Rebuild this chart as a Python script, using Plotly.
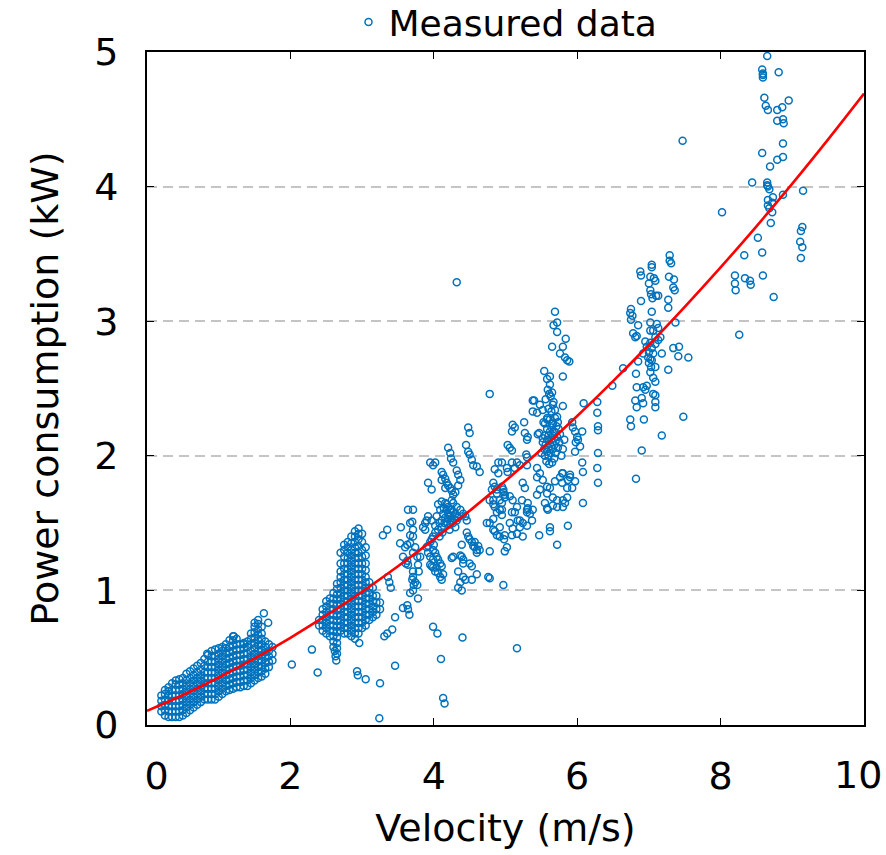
import plotly.graph_objects as go

# ---------------- data ----------------
# dense low-speed band: (velocity, [power values]) columns
low_band = [
    (0.20, [0.10, 0.14, 0.18, 0.22]),
    (0.25, [0.07, 0.11, 0.15, 0.19, 0.23, 0.26]),
    (0.30, [0.06, 0.10, 0.14, 0.18, 0.22, 0.25, 0.28]),
    (0.35, [0.06, 0.10, 0.14, 0.18, 0.22, 0.26, 0.31]),
    (0.40, [0.06, 0.10, 0.14, 0.18, 0.22, 0.26, 0.30, 0.33]),
    (0.45, [0.06, 0.10, 0.14, 0.18, 0.22, 0.26, 0.30, 0.34]),
    (0.50, [0.07, 0.11, 0.15, 0.19, 0.23, 0.27, 0.31, 0.35]),
    (0.55, [0.09, 0.13, 0.17, 0.21, 0.25, 0.29, 0.33, 0.38]),
    (0.60, [0.11, 0.15, 0.19, 0.23, 0.27, 0.31, 0.35, 0.40]),
    (0.65, [0.13, 0.17, 0.21, 0.25, 0.29, 0.33, 0.37, 0.42]),
    (0.70, [0.15, 0.19, 0.23, 0.27, 0.31, 0.35, 0.39, 0.44]),
    (0.75, [0.17, 0.21, 0.25, 0.29, 0.33, 0.37, 0.41, 0.46]),
    (0.80, [0.19, 0.23, 0.27, 0.31, 0.35, 0.39, 0.44, 0.49]),
    (0.85, [0.19, 0.23, 0.27, 0.31, 0.35, 0.39, 0.43, 0.47, 0.52]),
    (0.90, [0.19, 0.23, 0.27, 0.31, 0.35, 0.39, 0.43, 0.47, 0.51, 0.55]),
    (0.95, [0.19, 0.23, 0.27, 0.31, 0.35, 0.39, 0.43, 0.47, 0.51, 0.56]),
    (1.00, [0.21, 0.25, 0.29, 0.33, 0.37, 0.41, 0.45, 0.49, 0.53, 0.57]),
    (1.05, [0.23, 0.27, 0.31, 0.35, 0.39, 0.43, 0.47, 0.51, 0.55, 0.58]),
    (1.10, [0.25, 0.29, 0.33, 0.37, 0.41, 0.45, 0.49, 0.53, 0.57, 0.60]),
    (1.15, [0.26, 0.30, 0.34, 0.38, 0.42, 0.46, 0.50, 0.54, 0.58, 0.63]),
    (1.20, [0.27, 0.31, 0.35, 0.39, 0.43, 0.47, 0.51, 0.55, 0.59, 0.63, 0.66]),
    (1.25, [0.28, 0.32, 0.36, 0.40, 0.44, 0.48, 0.52, 0.56, 0.60, 0.64]),
    (1.30, [0.28, 0.32, 0.36, 0.40, 0.44, 0.48, 0.52, 0.56, 0.60]),
    (1.35, [0.29, 0.33, 0.37, 0.41, 0.45, 0.49, 0.53, 0.57, 0.61]),
    (1.40, [0.29, 0.33, 0.37, 0.41, 0.45, 0.49, 0.53, 0.58, 0.62]),
    (1.45, [0.31, 0.35, 0.39, 0.43, 0.47, 0.51, 0.55, 0.60, 0.64, 0.68]),
    (1.50, [0.33, 0.37, 0.41, 0.45, 0.49, 0.53, 0.57, 0.61, 0.65, 0.69, 0.73, 0.76]),
    (1.55, [0.35, 0.39, 0.43, 0.47, 0.51, 0.55, 0.59, 0.63, 0.67, 0.71, 0.75, 0.78]),
    (1.60, [0.36, 0.40, 0.44, 0.48, 0.52, 0.56, 0.60, 0.64, 0.68, 0.73]),
    (1.65, [0.38, 0.42, 0.46, 0.50, 0.54, 0.58, 0.62]),
    (1.70, [0.43, 0.47, 0.51, 0.55, 0.60]),
    (1.75, [0.48, 0.53, 0.58]),
]

# dense cluster around 2.4-3.25 m/s
mid_band = [
    (2.40, [0.74, 0.78]),
    (2.45, [0.70, 0.74, 0.78, 0.82, 0.86]),
    (2.50, [0.68, 0.72, 0.76, 0.80, 0.84, 0.88, 0.92]),
    (2.55, [0.66, 0.70, 0.74, 0.78, 0.82, 0.86, 0.90, 0.94]),
    (2.60, [0.58, 0.62, 0.66, 0.70, 0.74, 0.78, 0.82, 0.86, 0.90, 0.94, 0.98]),
    (2.65, [0.53, 0.57, 0.61, 0.65, 0.69, 0.73, 0.77, 0.81, 0.85, 0.89, 0.93, 0.97, 1.01, 1.05]),
    (2.70, [0.70, 0.74, 0.78, 0.82, 0.86, 0.90, 0.94, 0.98, 1.02, 1.06, 1.10, 1.14, 1.20, 1.28]),
    (2.75, [0.68, 0.72, 0.76, 0.80, 0.84, 0.88, 0.92, 0.96, 1.00, 1.04, 1.08, 1.12, 1.16, 1.20, 1.25, 1.30, 1.34]),
    (2.80, [0.68, 0.72, 0.76, 0.80, 0.84, 0.88, 0.92, 0.96, 1.00, 1.04, 1.08, 1.12, 1.16, 1.20, 1.24, 1.28, 1.32, 1.36]),
    (2.85, [0.66, 0.70, 0.74, 0.78, 0.82, 0.86, 0.90, 0.94, 0.98, 1.02, 1.06, 1.10, 1.14, 1.18, 1.22, 1.26, 1.30, 1.35, 1.40]),
    (2.90, [0.64, 0.68, 0.72, 0.76, 0.80, 0.84, 0.88, 0.92, 0.96, 1.00, 1.04, 1.08, 1.12, 1.16, 1.20, 1.24, 1.28, 1.32, 1.36, 1.40, 1.44]),
    (2.95, [0.68, 0.72, 0.76, 0.80, 0.84, 0.88, 0.92, 0.96, 1.00, 1.04, 1.08, 1.12, 1.16, 1.20, 1.24, 1.28, 1.33, 1.38, 1.42, 1.46]),
    (3.00, [0.72, 0.76, 0.80, 0.84, 0.88, 0.92, 0.96, 1.00, 1.04, 1.08, 1.12, 1.16, 1.20, 1.25, 1.30, 1.36, 1.42]),
    (3.05, [0.74, 0.78, 0.82, 0.86, 0.90, 0.94, 0.98, 1.02, 1.06, 1.10, 1.15, 1.20, 1.26, 1.32]),
    (3.10, [0.78, 0.82, 0.86, 0.90, 0.94, 0.98, 1.02, 1.06]),
    (3.15, [0.80, 0.84, 0.88, 0.92, 0.96, 1.02]),
    (3.20, [0.82, 0.86, 0.91, 0.96]),
    (3.25, [0.86, 0.91]),
]

outliers_low = [
    (1.63, 0.83), (1.69, 0.76), (1.21, 0.66), (0.84, 0.53), (1.35, 0.60),
    (2.02, 0.45), (2.30, 0.56), (2.38, 0.39), (2.62, 0.55), (2.63, 0.51), (2.64, 0.48),
    (2.93, 0.40), (2.94, 0.37), (3.05, 0.34), (3.25, 0.31), (3.24, 0.05), (2.96, 0.61),
    (3.46, 0.44), (3.31, 0.66), (3.35, 0.68), (3.42, 0.71), (3.46, 0.80), (3.57, 0.87),
    (3.64, 0.86), (3.63, 0.89), (3.66, 0.82), (3.78, 0.94), (3.67, 0.98), (3.99, 0.73),
    (4.05, 0.68), (4.10, 0.49), (4.13, 0.20), (4.15, 0.16), (4.40, 0.65), (5.16, 0.57),
]

cluster_4 = [
    (4.16, 1.65), (4.18, 1.64), (4.20, 1.62), (4.23, 1.60), (4.25, 1.60), (4.27, 1.58),
    (4.30, 1.57), (4.32, 1.55), (4.34, 1.54), (4.18, 1.60), (4.20, 1.57), (4.23, 1.55),
    (4.25, 1.52), (4.27, 1.50), (4.13, 1.57), (4.16, 1.54), (4.11, 1.52), (4.18, 1.51),
    (4.23, 1.49), (4.30, 1.47), (4.32, 1.52), (4.11, 1.47), (4.06, 1.45), (4.02, 1.43),
    (3.99, 1.40), (3.97, 1.38), (3.95, 1.36), (3.92, 1.33), (3.90, 1.32), (3.88, 1.45),
    (3.85, 1.47), (3.90, 1.52), (3.88, 1.50), (3.92, 1.55), (3.97, 1.52), (4.04, 1.55),
    (4.09, 1.60), (4.06, 1.64), (4.11, 1.66), (4.25, 1.67), (4.27, 1.65), (4.32, 1.62),
    (4.37, 1.60), (4.41, 1.57), (4.44, 1.55), (4.46, 1.52), (3.99, 1.30), (4.02, 1.28),
    (4.04, 1.25), (4.06, 1.23), (4.09, 1.20), (4.11, 1.18), (4.04, 1.17), (3.99, 1.17),
    (3.95, 1.19), (3.99, 1.23), (3.95, 1.25), (3.92, 1.28), (4.20, 1.53), (4.15, 1.50),
    (4.08, 1.50), (4.02, 1.48), (4.14, 1.61), (4.22, 1.45), (4.28, 1.53), (4.08, 1.40),
    (4.12, 1.43), (4.00, 1.34),
]

scatter_mid = [
    (3.29, 1.41), (3.35, 1.45), (3.54, 1.47), (3.67, 1.50), (3.64, 1.60), (3.71, 1.60),
    (3.70, 1.51), (3.71, 1.45), (3.67, 1.41), (3.71, 1.40), (3.53, 1.35), (3.63, 1.34),
    (3.67, 1.35), (3.74, 1.32), (3.60, 1.32), (3.57, 1.25), (3.61, 1.20), (3.64, 1.19),
    (3.63, 1.22), (3.77, 1.25), (3.71, 1.28), (3.78, 1.19), (3.79, 1.14), (3.71, 1.14),
    (3.71, 1.10), (3.70, 1.08), (3.74, 1.06), (3.77, 1.04), (3.72, 1.04), (3.71, 1.00),
    (3.36, 1.10), (3.38, 1.06), (3.40, 1.02), (3.81, 1.25),
    (3.97, 1.18), (4.02, 1.14), (4.06, 1.13), (4.09, 1.10), (4.13, 1.12), (4.11, 1.08),
    (4.20, 2.06), (4.23, 2.02), (4.24, 1.98), (4.27, 1.95), (4.11, 1.88), (4.13, 1.86),
    (4.16, 1.83), (4.18, 1.80), (4.20, 1.78), (4.23, 1.76), (4.25, 1.74), (4.16, 1.76),
    (4.11, 1.82), (4.32, 1.89), (4.34, 1.86), (4.37, 1.82), (4.34, 1.78), (4.30, 1.73),
    (4.27, 1.71), (3.92, 1.80), (3.97, 1.75), (4.02, 1.95), (3.95, 1.95), (3.99, 1.93),
    (4.45, 2.08), (4.48, 2.03), (4.50, 2.01), (4.53, 1.97), (4.55, 1.93), (4.60, 1.92),
    (4.64, 1.88), (4.48, 2.21), (4.50, 2.17), (4.32, 3.29),
    (4.46, 1.43), (4.48, 1.40), (4.50, 1.38), (4.53, 1.36), (4.55, 1.33), (4.57, 1.32),
    (4.60, 1.30), (4.64, 1.30), (4.62, 1.33), (4.57, 1.36), (4.39, 1.34), (4.50, 1.20),
    (4.53, 1.18), (4.60, 1.12), (4.76, 1.10), (4.78, 1.09), (4.37, 1.06), (4.44, 1.08),
    (4.34, 1.02), (4.39, 1.00), (4.97, 1.04), (4.27, 1.25), (4.25, 1.24), (4.60, 1.28),
    (4.39, 1.25), (4.41, 1.23), (4.37, 1.26), (4.41, 1.20), (4.34, 1.14), (4.41, 1.10),
    (4.53, 1.08),
    (4.85, 1.77), (4.88, 1.75), (4.95, 1.77), (4.97, 1.73), (4.99, 1.69), (4.92, 1.67),
    (4.83, 1.67), (4.85, 1.62), (4.95, 1.60), (4.88, 1.58), (4.83, 1.53), (4.78, 1.50),
    (4.92, 1.47), (4.85, 1.44), (4.88, 1.41), (4.99, 1.41), (4.98, 1.38), (4.99, 1.29),
    (5.02, 1.32), (4.78, 1.29), (4.95, 1.56), (5.13, 1.58), (5.20, 1.47), (5.09, 1.41),
    (4.90, 1.95), (4.95, 1.95), (4.85, 1.90), (4.90, 1.87), (5.02, 1.91), (5.03, 1.88),
    (5.16, 1.95), (5.30, 1.93), (5.30, 1.99), (5.20, 1.93), (5.13, 1.91), (5.09, 1.95),
    (4.83, 1.80), (4.81, 1.75), (4.88, 1.72), (4.78, 1.67), (4.83, 1.64), (4.92, 1.60),
    (4.97, 1.75), (4.99, 1.71), (4.95, 1.65), (5.06, 1.70), (5.10, 1.67), (5.16, 1.62),
    (5.09, 1.58), (5.24, 1.80), (5.27, 1.76), (5.31, 1.65), (5.30, 1.60), (5.20, 1.52),
    (5.24, 1.50), (5.34, 1.57), (5.38, 1.60), (4.74, 1.50), (4.83, 1.45), (4.92, 1.40),
    (5.06, 1.50), (5.10, 1.46), (5.16, 1.42), (5.24, 1.40), (5.23, 1.67), (5.31, 1.61),
    (5.30, 1.58), (5.37, 1.52), (5.30, 1.48), (5.17, 1.52),
    (5.10, 2.23), (5.13, 2.21), (5.09, 2.18), (5.26, 2.25), (5.27, 2.17), (5.30, 2.12),
    (5.31, 2.14), (5.03, 2.08), (5.06, 2.06), (5.09, 2.04), (5.29, 2.01), (4.78, 2.46),
    (5.38, 2.41), (5.40, 2.41), (5.38, 2.33), (5.44, 2.32), (5.48, 2.38), (5.52, 2.34),
]

cluster_56 = [
    (5.55, 2.00), (5.58, 2.03), (5.60, 2.06), (5.62, 2.09), (5.64, 2.12), (5.66, 2.15),
    (5.68, 2.18), (5.60, 2.00), (5.63, 2.02), (5.66, 2.05), (5.68, 2.08), (5.70, 2.11),
    (5.72, 2.14), (5.58, 2.12), (5.56, 2.08), (5.54, 2.05), (5.60, 2.15), (5.62, 2.18),
    (5.64, 2.21), (5.66, 2.24), (5.58, 2.20), (5.55, 2.15), (5.52, 2.10), (5.50, 2.02),
    (5.70, 2.02), (5.73, 2.06), (5.75, 2.10), (5.76, 2.16), (5.74, 2.20), (5.71, 2.22),
    (5.68, 1.98), (5.65, 1.95), (5.61, 1.94), (5.57, 1.96), (5.78, 2.00), (5.80, 2.05),
    (5.82, 2.12), (5.62, 2.27), (5.58, 2.27), (5.69, 2.28), (5.73, 2.25), (5.64, 2.33),
    (5.60, 2.35), (5.67, 2.40), (5.63, 2.44), (5.59, 2.49), (5.62, 2.53), (5.65, 2.47),
    (5.56, 2.42),
]

scatter_56 = [
    (5.69, 3.07), (5.67, 2.97), (5.72, 2.92), (5.72, 2.99), (5.65, 2.81), (5.76, 2.76),
    (5.80, 2.81), (5.84, 2.87), (5.83, 2.73), (5.86, 2.71), (5.89, 2.70), (5.54, 2.63),
    (5.58, 2.57), (5.62, 2.59), (5.80, 2.59), (5.61, 2.46), (5.66, 2.38), (5.80, 2.37),
    (5.69, 2.34), (5.72, 2.29), (5.58, 2.28), (5.93, 2.25), (5.94, 2.21), (5.97, 2.18),
    (6.00, 2.14), (6.01, 2.12), (5.98, 2.10), (6.04, 2.07), (5.97, 2.03), (6.07, 2.18),
    (6.09, 2.39), (6.28, 2.40), (6.28, 2.32), (6.29, 2.22), (6.29, 2.19), (6.29, 2.02),
    (6.28, 1.91), (6.29, 1.80), (6.08, 1.65), (6.49, 2.52), (6.64, 2.65),
    (5.44, 1.91), (5.48, 1.87), (5.44, 1.84), (5.52, 1.82), (5.58, 1.77), (5.62, 1.76),
    (5.48, 1.75), (5.69, 1.81), (5.79, 1.80), (5.86, 1.76), (5.93, 1.76), (5.97, 1.81),
    (5.90, 1.84), (5.80, 1.87), (5.44, 1.71), (5.58, 1.72), (5.66, 1.69), (5.72, 1.67),
    (5.80, 1.67), (5.83, 1.65), (5.66, 1.63), (5.55, 1.65), (5.58, 1.61), (5.62, 1.47),
    (5.62, 1.44), (5.72, 1.34), (5.87, 1.48), (5.47, 1.41), (5.59, 1.60), (5.72, 1.62),
    (5.80, 1.62), (5.86, 1.69), (5.76, 1.84), (5.79, 1.87), (5.87, 1.82), (5.90, 1.86),
    (6.07, 1.95), (6.08, 1.88), (5.45, 2.16), (5.47, 2.17), (5.53, 2.25), (5.55, 2.24),
    (5.52, 2.13),
]

scatter_7 = [
    (7.29, 3.49), (7.29, 3.45), (7.31, 3.43), (7.04, 3.42), (7.04, 3.40), (6.88, 3.37),
    (6.89, 3.34), (7.02, 3.33), (7.07, 3.32), (7.09, 3.30), (7.00, 3.28), (7.28, 3.33),
    (7.35, 3.31), (7.34, 3.25), (7.36, 3.23), (7.02, 3.23), (7.03, 3.20), (7.10, 3.19),
    (7.13, 3.19), (7.05, 3.17), (6.89, 3.15), (7.27, 3.16), (7.27, 3.10), (6.75, 3.09),
    (6.74, 3.06), (6.77, 3.04), (6.75, 3.01), (7.04, 3.07), (6.85, 2.97), (6.78, 2.91),
    (6.81, 2.88), (6.83, 2.89), (7.02, 2.99), (7.11, 2.98), (7.02, 2.93), (7.06, 2.93),
    (7.13, 2.95), (7.09, 2.88), (7.16, 2.88), (7.13, 2.86), (6.95, 2.85), (7.02, 2.84),
    (7.09, 2.83), (6.97, 2.81), (7.04, 2.80), (7.00, 2.77), (7.06, 2.76), (6.99, 2.73),
    (7.02, 2.72), (7.04, 2.71), (7.00, 2.69), (7.03, 2.66), (7.09, 2.66), (6.92, 2.76),
    (7.18, 2.76), (6.85, 2.70), (7.27, 2.64), (7.34, 2.80), (7.41, 2.74), (7.42, 2.81),
    (7.55, 2.73), (7.37, 2.99), (6.82, 2.61), (6.83, 2.51), (6.92, 2.51), (6.97, 2.52),
    (6.95, 2.49), (7.09, 2.55), (7.06, 2.46), (7.09, 2.45), (6.81, 2.41), (6.90, 2.43),
    (6.92, 2.39), (6.83, 2.36), (7.09, 2.40), (7.09, 2.36), (6.74, 2.27), (6.75, 2.22),
    (6.93, 2.27), (7.48, 2.29), (7.18, 2.15), (6.90, 2.04), (6.82, 1.83), (7.02, 2.62),
    (7.06, 2.58),
]

scatter_high = [
    (7.47, 4.34), (8.65, 4.97), (8.58, 4.87), (8.59, 4.84), (8.59, 4.83), (8.59, 4.81),
    (8.81, 4.85), (8.61, 4.66), (8.63, 4.60), (8.66, 4.57), (8.95, 4.64), (8.79, 4.57),
    (8.86, 4.59), (8.79, 4.49), (8.87, 4.50), (8.88, 4.47), (8.87, 4.32), (8.58, 4.25),
    (8.79, 4.20), (8.87, 4.22), (8.69, 4.15), (8.44, 4.03), (8.65, 4.03), (8.65, 4.01),
    (8.66, 4.00), (8.68, 3.98), (9.15, 3.97), (8.87, 3.94), (8.73, 3.92), (8.66, 3.90),
    (8.72, 3.88), (8.66, 3.86), (8.68, 3.84), (8.72, 3.81), (8.70, 3.73), (8.02, 3.81),
    (9.14, 3.70), (9.12, 3.67), (9.11, 3.59), (9.14, 3.55), (9.12, 3.47), (8.52, 3.62),
    (8.33, 3.49), (8.58, 3.51), (8.20, 3.34), (8.20, 3.28), (8.21, 3.23), (8.34, 3.32),
    (8.41, 3.30), (8.42, 3.27), (8.59, 3.34), (8.74, 3.18), (8.26, 2.90),
]

# fitted curve
fit_velocity = [0.0, 0.5, 1.0, 1.5, 2.0, 2.5, 3.0, 3.5, 4.0, 4.5, 5.0,
                5.5, 6.0, 6.5, 7.0, 7.5, 8.0, 8.5, 9.0, 9.5, 10.0]
fit_power = [0.105, 0.223, 0.353, 0.495, 0.648, 0.814, 0.990, 1.179, 1.379, 1.591, 1.814,
             2.049, 2.296, 2.555, 2.825, 3.107, 3.400, 3.705, 4.022, 4.351, 4.691]

x_ticks = [0, 2, 4, 6, 8, 10]
x_labels = ["\u2005\u20050", "2", "4", "6", "8", ""]  # first label nudged inward as in the reference
last_x_label = "10"                                  # drawn inside the page edge, as in the reference
y_ticks = [0, 1, 2, 3, 4, 5]

# ---------------- assemble ----------------
vel, pw = [], []
for cols in (low_band, mid_band):
    for v, ps in cols:
        for p in ps:
            vel.append(v)
            pw.append(p)
for pts in (outliers_low, cluster_4, scatter_mid, cluster_56, scatter_56, scatter_7, scatter_high):
    for v, p in pts:
        vel.append(v)
        pw.append(p)

FONT = "DejaVu Sans"
fig = go.Figure()
fig.add_trace(go.Scatter(
    x=vel, y=pw, mode="markers", name="Measured data",
    marker=dict(symbol="circle-open", size=7, color="#0072BD", line=dict(width=1.5, color="#0072BD")),
))
fig.add_trace(go.Scatter(
    x=fit_velocity, y=fit_power, mode="lines", showlegend=False,
    line=dict(color="#FF0000", width=2.6, shape="spline"),
))

fig.update_layout(
    width=886, height=855,
    margin=dict(l=147, r=22, t=52, b=130, autoexpand=False),
    plot_bgcolor="white", paper_bgcolor="white",
    font=dict(family=FONT, size=36, color="black"),
    legend=dict(orientation="h", x=0.5, xanchor="center",
                y=1.0, yanchor="bottom",
                font=dict(size=36, family=FONT), bgcolor="rgba(0,0,0,0)"),
    showlegend=True,
)
fig.add_annotation(
    x=x_ticks[-1], xref="x", y=0, yref="paper", text=last_x_label, showarrow=False,
    xanchor="center", xshift=-6, yanchor="middle", yshift=-50,
    font=dict(size=38, family=FONT, color="black"),
)
fig.update_xaxes(
    range=[0, 10], tickvals=x_ticks, ticktext=x_labels,
    ticks="inside", ticklen=7, tickwidth=1, tickcolor="black",
    showline=True, linecolor="black", linewidth=2, mirror="ticks",
    showgrid=False, zeroline=False, ticklabelstandoff=16, ticklabeloverflow="allow",
    tickfont=dict(size=38, family=FONT),
    title=dict(text="Velocity (m/s)", font=dict(size=38, family=FONT), standoff=18),
    automargin=False,
)
fig.update_yaxes(
    range=[0, 5], tickvals=y_ticks, ticktext=[str(t) for t in y_ticks],
    ticks="inside", ticklen=7, tickwidth=1, tickcolor="black",
    showline=True, linecolor="black", linewidth=2, mirror="ticks",
    showgrid=True, gridcolor="#c4c4c4", gridwidth=2, griddash="10px,6px",
    zeroline=False, ticklabelstandoff=19, ticklabeloverflow="allow",
    tickfont=dict(size=38, family=FONT),
    title=dict(text="Power consumption (kW)", font=dict(size=38, family=FONT), standoff=24),
    automargin=False,
)

fig.write_html("out.html")
